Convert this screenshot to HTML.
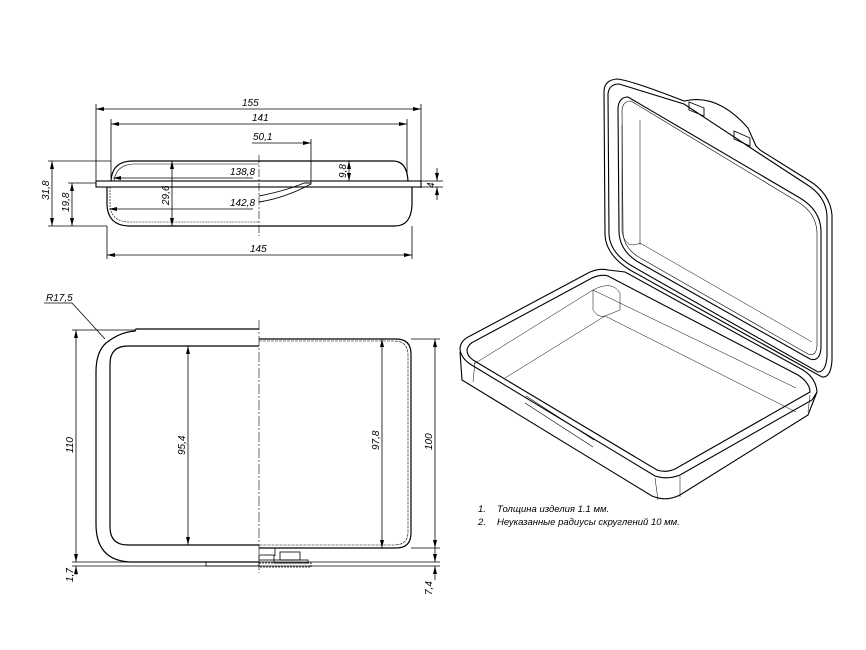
<!DOCTYPE html>
<html><head><meta charset="utf-8"><style>
html,body{margin:0;padding:0;background:#fff}
svg{display:block}
text{font-family:"Liberation Sans","DejaVu Sans",sans-serif;font-style:italic;font-size:10px;fill:#000}
</style></head><body>
<svg width="866" height="650" viewBox="0 0 866 650" xmlns="http://www.w3.org/2000/svg">
<defs><marker id="a" markerWidth="8" markerHeight="6" refX="8" refY="3" orient="auto-start-reverse" markerUnits="userSpaceOnUse"><path d="M0,1 L8,3 L0,5" fill="#000"/></marker></defs>
<g stroke="#000" fill="none" stroke-width="0.8">
<!-- SIDE VIEW -->
<line x1="96" y1="109" x2="421" y2="109" marker-start="url(#a)" marker-end="url(#a)"/>
<line x1="96" y1="104" x2="96" y2="183"/><line x1="421" y1="104" x2="421" y2="188"/>
<line x1="111" y1="124" x2="407" y2="124" marker-start="url(#a)" marker-end="url(#a)"/>
<line x1="111" y1="119" x2="111" y2="178"/><line x1="407" y1="119" x2="407" y2="175"/>
<line x1="252" y1="143" x2="311" y2="143" marker-end="url(#a)"/>
<line x1="311" y1="139" x2="311" y2="183"/>
<path d="M111,181 Q112,161 133,161 L393,161 Q407,161 408,181" stroke-width="1.2"/>
<path d="M114,181 Q116,165 133,164 L259,164" stroke-width="0.6"/>
<rect x="96" y="181" width="325" height="6" stroke-width="1.1"/>
<path d="M107,187 L107,205 Q108,226 130,226 L395,226 Q411,226 412,205 L412,187" stroke-width="1.2"/>
<path d="M110,187 L110,205 Q111,222 130,222 L259,222" stroke-width="0.6" stroke-dasharray="2 1"/>
<path d="M259,202 Q285,198 311,184 L311,183 L304,183 Q285,191 259,196" stroke-width="0.9"/>
<line x1="259" y1="155" x2="259" y2="236" stroke-dasharray="8 2 2 2" stroke-width="0.6"/>
<line x1="48" y1="161" x2="111" y2="161"/><line x1="48" y1="226" x2="107" y2="226"/>
<line x1="52" y1="161" x2="52" y2="226" marker-start="url(#a)" marker-end="url(#a)"/>
<line x1="68" y1="183" x2="96" y2="183"/>
<line x1="72" y1="183" x2="72" y2="226" marker-start="url(#a)" marker-end="url(#a)"/>
<line x1="172" y1="161" x2="172" y2="226" marker-start="url(#a)" marker-end="url(#a)"/>
<line x1="253" y1="178" x2="113" y2="178" marker-end="url(#a)"/>
<line x1="253" y1="209" x2="109" y2="209" marker-end="url(#a)"/>
<line x1="349" y1="161" x2="349" y2="181" marker-start="url(#a)" marker-end="url(#a)"/>
<line x1="421" y1="181" x2="443" y2="181"/><line x1="421" y1="187" x2="443" y2="187"/>
<line x1="437" y1="168" x2="437" y2="181" marker-end="url(#a)"/>
<line x1="437" y1="200" x2="437" y2="187" marker-end="url(#a)"/>
<line x1="107" y1="226" x2="107" y2="259"/><line x1="412" y1="226" x2="412" y2="259"/>
<line x1="107" y1="255" x2="412" y2="255" marker-start="url(#a)" marker-end="url(#a)"/>
<!-- PLAN VIEW -->
<line x1="72" y1="303" x2="105" y2="339"/><line x1="44" y1="303" x2="72" y2="303"/>
<path d="M259,329 L136,329 L135,331 Q120,332 106,343 Q96,352 96,372 L96,524 Q96,562 133,562 L259,562" stroke-width="1.2"/>
<path d="M259,346 L128,346 Q110,346 110,364 L110,527 Q110,545 128,545 L259,545" stroke-width="1.2"/>
<path d="M259,339 L396,339 Q411,339 411,354 L411,533 Q411,548 396,548 L259,548" stroke-width="1.2"/>
<path d="M259,341 L394,341 Q408,341 408,355 L408,532 Q408,545 394,545 L259,545" stroke-width="0.6" stroke-dasharray="3 1"/>
<line x1="259" y1="320" x2="259" y2="573" stroke-dasharray="10 2 2 2" stroke-width="0.6"/>
<line x1="188" y1="346" x2="188" y2="545" marker-start="url(#a)" marker-end="url(#a)"/>
<line x1="382" y1="339" x2="382" y2="548" marker-start="url(#a)" marker-end="url(#a)"/>
<line x1="411" y1="339" x2="440" y2="339"/><line x1="411" y1="548" x2="440" y2="548"/>
<line x1="435" y1="339" x2="435" y2="548" marker-start="url(#a)" marker-end="url(#a)"/>
<line x1="72" y1="330" x2="136" y2="330"/>
<line x1="76" y1="330" x2="76" y2="562" marker-start="url(#a)" marker-end="url(#a)"/>
<line x1="72" y1="562" x2="440" y2="562"/><line x1="72" y1="566" x2="440" y2="566"/>
<line x1="76" y1="575" x2="76" y2="566" marker-end="url(#a)"/>
<line x1="435" y1="548" x2="435" y2="562" marker-end="url(#a)"/>
<line x1="435" y1="580" x2="435" y2="566" marker-end="url(#a)"/>
<rect x="206" y="562" width="53" height="4"/>
<rect x="259" y="555" width="15" height="5"/><rect x="280" y="552" width="20" height="8"/>
<rect x="274" y="560" width="34" height="3"/><rect x="259" y="563" width="52" height="4" stroke-dasharray="2 1"/>
<line x1="275" y1="548" x2="275" y2="556"/>
<!-- 3D VIEW -->
<g stroke-width="1.1">
<path d="M604,92 Q604,80 617,79 Q630,80 684,101 L690,100 Q720,96 748,128 L756,146 L760,150 L808,180 Q830,193 832,215 L832,360 Q831,378 822,377 L630,270 Q606,255 605,235 Z"/>
<path d="M608,94 Q609,84 619,84 L684,104 L760,154 L806,184 Q826,196 827,216 L827,356 Q826,372 818,372 L632,266 Q610,253 609,234 Z"/>
<path d="M618,108 Q619,97 628,97 L800,198 Q820,210 821,230 L821,348 Q820,362 810,359 L640,263 Q620,252 619,232 Z"/>
<path d="M622,110 Q623,101 631,101 L798,202 Q816,213 817,232 L817,346 Q816,357 808,354 L642,259 Q623,249 623,231 Z" stroke-width="0.6"/>
<path d="M689,102 L704,108 L704,116 L689,110 Z M734,131 L750,138 L750,146 L734,139 Z" stroke-width="0.9"/>
<path d="M460,348 Q461,340 470,336 L590,272 Q600,268 608,270 L625,272 L803,370 Q816,378 817,392 L812,400 L680,475 Q668,480 655,476 L470,364 Q460,357 460,348 Z"/>
<path d="M467,350 Q468,344 475,341 L592,278 Q601,274 608,276 L798,375 Q810,383 810,392 L675,469 Q666,473 657,470 L473,360 Q467,356 467,350 Z"/>
<path d="M460,352 L462,380 L652,496 Q666,502 680,495 L808,415 L817,392" />
<path d="M475,362 L473,382 M810,395 L808,412 M655,478 L658,500 M680,476 L680,497" stroke-width="0.5"/>
<path d="M474,364 L593,290 L796,388 M593,290 L593,310 Q598,318 605,316 L620,310 L620,293 Q612,280 593,290 M605,316 L796,412 M505,378 L605,316" stroke-width="0.5"/>
<path d="M622,125 L622,232 Q626,250 640,243 M640,243 L812,342 M640,120 L640,245" stroke-width="0.5"/>
<path d="M526,396 L594,440 M525,403 L593,447" stroke-width="0.6"/>
</g>
</g>
<text x="242" y="106">155</text>
<text x="252" y="121">141</text>
<text x="253" y="140">50,1</text>
<text x="230" y="175">138,8</text>
<text x="230" y="206">142,8</text>
<text x="250" y="252">145</text>
<text transform="translate(49,200) rotate(-90)">31,8</text>
<text transform="translate(69,212) rotate(-90)">19,8</text>
<text transform="translate(169,205) rotate(-90)">29,6</text>
<text transform="translate(346,178) rotate(-90)">9,8</text>
<text transform="translate(434,188) rotate(-90)">4</text>
<text x="46" y="301">R17,5</text>
<text transform="translate(73,453) rotate(-90)">110</text>
<text transform="translate(185,455) rotate(-90)">95,4</text>
<text transform="translate(379,450) rotate(-90)">97,8</text>
<text transform="translate(432,450) rotate(-90)">100</text>
<text transform="translate(73,582) rotate(-90)">1,7</text>
<text transform="translate(432,595) rotate(-90)">7,4</text>
<text x="478" y="512" style="font-size:9.5px">1.</text><text x="497" y="512" style="font-size:9.5px">Толщина изделия 1.1 мм.</text>
<text x="478" y="525" style="font-size:9.5px">2.</text><text x="497" y="525" style="font-size:9.5px">Неуказанные радиусы скруглений 10 мм.</text>
</svg>
</body></html>
